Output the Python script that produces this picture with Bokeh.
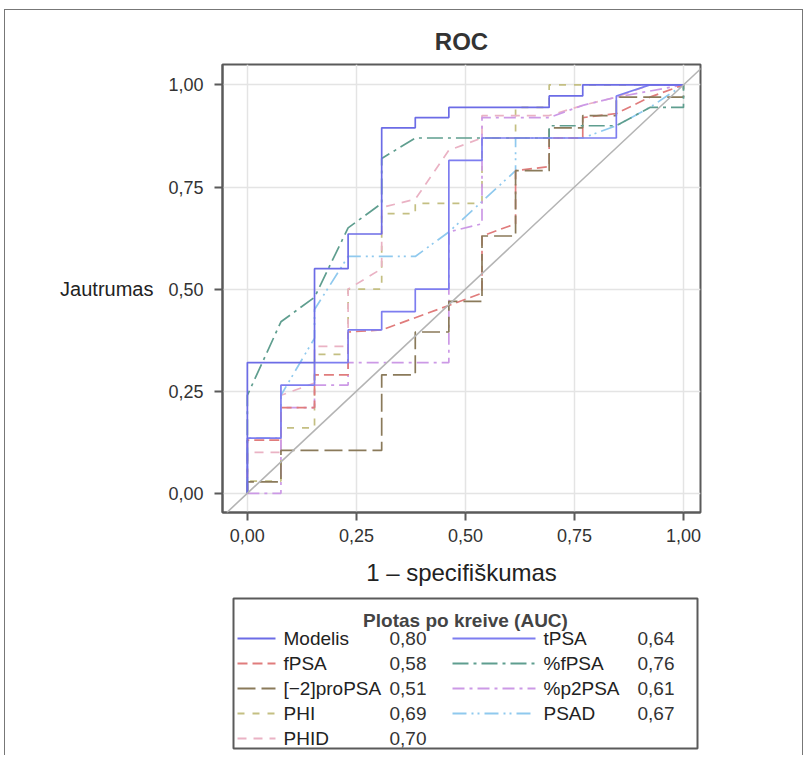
from bokeh.plotting import figure
from bokeh.models import Range1d, Slope
from bokeh.layouts import column
from bokeh.embed import file_html
from bokeh.resources import INLINE
from bokeh.core.properties import value

FONT = "Liberation Sans"

# ---------------- data ----------------
tick_values = [0.0, 0.25, 0.5, 0.75, 1.0]
tick_labels = ["0,00", "0,25", "0,50", "0,75", "1,00"]

names = ["Modelis", "fPSA", "[\u22122]proPSA", "PHI", "PHID", "tPSA", "%fPSA", "%p2PSA", "PSAD"]
auc = ["0,80", "0,58", "0,51", "0,69", "0,70", "0,64", "0,76", "0,61", "0,67"]

modelis_fpr = [0, 0, 0.154, 0.154, 0.231, 0.231, 0.308, 0.308, 0.385, 0.385, 0.462, 0.462, 0.692, 0.692, 0.769, 0.769, 1.0]
modelis_tpr = [0, 0.32, 0.32, 0.55, 0.55, 0.635, 0.635, 0.895, 0.895, 0.92, 0.92, 0.945, 0.945, 0.973, 0.973, 1.0, 1.0]

fpsa_fpr = [0, 0, 0.077, 0.077, 0.154, 0.154, 0.231, 0.231, 0.308, 0.462, 0.538, 0.538, 0.615, 0.615, 0.692, 0.692, 0.769, 0.769, 0.846, 0.923, 1.0]
fpsa_tpr = [0, 0.13, 0.13, 0.21, 0.21, 0.29, 0.29, 0.395, 0.40, 0.46, 0.49, 0.63, 0.66, 0.79, 0.80, 0.87, 0.87, 0.92, 0.93, 0.97, 1.0]

pro_fpr = [0, 0, 0.077, 0.077, 0.308, 0.308, 0.385, 0.385, 0.462, 0.462, 0.538, 0.538, 0.615, 0.615, 0.692, 0.692, 0.769, 0.769, 0.846, 0.846, 0.923, 0.923, 1.0, 1.0]
pro_tpr = [0, 0.028, 0.028, 0.105, 0.105, 0.29, 0.29, 0.395, 0.395, 0.47, 0.47, 0.63, 0.63, 0.79, 0.79, 0.895, 0.895, 0.925, 0.925, 0.97, 0.97, 0.97, 0.97, 1.0]

phi_fpr = [0, 0, 0.077, 0.077, 0.154, 0.154, 0.231, 0.231, 0.308, 0.308, 0.385, 0.385, 0.538, 0.538, 0.615, 0.615, 0.692, 0.692, 1.0]
phi_tpr = [0, 0.03, 0.03, 0.16, 0.16, 0.34, 0.34, 0.50, 0.50, 0.685, 0.685, 0.71, 0.71, 0.87, 0.87, 0.945, 0.945, 1.0, 1.0]

phid_fpr = [0, 0, 0.077, 0.077, 0.154, 0.154, 0.231, 0.231, 0.308, 0.308, 0.385, 0.462, 0.538, 0.538, 0.692, 0.769, 0.846, 0.923, 1.0]
phid_tpr = [0, 0.10, 0.10, 0.24, 0.27, 0.36, 0.36, 0.50, 0.55, 0.70, 0.72, 0.84, 0.87, 0.925, 0.925, 0.95, 0.97, 1.0, 1.0]

tpsa_fpr = [0, 0, 0.077, 0.077, 0.154, 0.154, 0.231, 0.231, 0.308, 0.308, 0.385, 0.385, 0.462, 0.462, 0.538, 0.538, 0.846, 0.846, 0.923, 1.0]
tpsa_tpr = [0, 0.135, 0.135, 0.265, 0.265, 0.32, 0.32, 0.40, 0.40, 0.445, 0.445, 0.50, 0.50, 0.815, 0.815, 0.87, 0.87, 0.973, 1.0, 1.0]

ffpsa_fpr = [0, 0, 0.077, 0.154, 0.231, 0.308, 0.308, 0.385, 0.692, 0.692, 0.846, 0.923, 1.0, 1.0]
ffpsa_tpr = [0, 0.24, 0.42, 0.48, 0.65, 0.71, 0.82, 0.87, 0.87, 0.90, 0.90, 0.945, 0.945, 1.0]

p2psa_fpr = [0, 0.077, 0.077, 0.154, 0.154, 0.231, 0.231, 0.462, 0.462, 0.538, 0.538, 0.692, 0.769, 0.846, 1.0]
p2psa_tpr = [0, 0, 0.21, 0.21, 0.265, 0.265, 0.32, 0.32, 0.64, 0.66, 0.92, 0.92, 0.95, 0.97, 1.0]

psad_fpr = [0, 0, 0.077, 0.077, 0.154, 0.154, 0.231, 0.385, 0.462, 0.615, 0.615, 0.769, 0.846, 0.923, 1.0]
psad_tpr = [0, 0.135, 0.135, 0.24, 0.38, 0.45, 0.58, 0.58, 0.64, 0.79, 0.87, 0.87, 0.90, 0.945, 1.0]

curves = {
    "Modelis": (modelis_fpr, modelis_tpr),
    "fPSA": (fpsa_fpr, fpsa_tpr),
    "[\u22122]proPSA": (pro_fpr, pro_tpr),
    "PHI": (phi_fpr, phi_tpr),
    "PHID": (phid_fpr, phid_tpr),
    "tPSA": (tpsa_fpr, tpsa_tpr),
    "%fPSA": (ffpsa_fpr, ffpsa_tpr),
    "%p2PSA": (p2psa_fpr, p2psa_tpr),
    "PSAD": (psad_fpr, psad_tpr),
}

# ---------------- styles ----------------
colors = {
    "Modelis": "#6c6ce6",
    "fPSA": "#e07c7c",
    "[\u22122]proPSA": "#8a7a5a",
    "PHI": "#c4bf82",
    "PHID": "#eab2c4",
    "tPSA": "#7d7df0",
    "%fPSA": "#5f9e8f",
    "%p2PSA": "#cc99e6",
    "PSAD": "#8fc9ee",
}
dashes = {
    "Modelis": "solid",
    "fPSA": "10 5",
    "[\u22122]proPSA": "18 6",
    "PHI": "7 8",
    "PHID": "9 7",
    "tPSA": "solid",
    "%fPSA": "16 5 3 5",
    "%p2PSA": "12 5 3 5",
    "PSAD": "14 5 2 4 2 5",
}
draw_order = ["PHI", "PHID", "PSAD", "%p2PSA", "fPSA", "[\u22122]proPSA", "%fPSA", "tPSA", "Modelis"]

W = 797
H_MAIN = 580
H_LEG = 165
FL, FT, FW, FH = 217, 54, 478, 448   # frame placement inside main figure

# ---------------- main figure ----------------
p = figure(frame_width=FW, frame_height=FH,
           x_range=Range1d(-0.057, 1.039), y_range=Range1d(-0.047, 1.05),
           output_backend="svg", toolbar_location=None,
           min_border_left=FL, min_border_right=W - FL - FW,
           min_border_top=FT, min_border_bottom=H_MAIN - FT - FH)
p.background_fill_color = "white"
p.border_fill_color = "white"
p.outline_line_color = "#5a5a5a"
p.outline_line_width = 2

p.title.text = "ROC"
p.title.align = "center"
p.title.text_font = FONT
p.title.text_font_size = "24px"
p.title.text_font_style = "bold"
p.title.text_color = "#333333"
p.title.standoff = 20

for ax in (p.xaxis, p.yaxis):
    ax.ticker = tick_values
    ax.major_label_overrides = dict(zip(tick_values, tick_labels))
    ax.major_label_text_font = FONT
    ax.major_label_text_font_size = "18px"
    ax.major_label_text_color = "#333333"
    ax.axis_line_color = "#5a5a5a"
    ax.axis_line_width = 2
    ax.major_tick_line_color = "#5a5a5a"
    ax.major_tick_line_width = 2
    ax.major_tick_out = 8
    ax.major_tick_in = 0
    ax.minor_tick_line_color = None
    ax.axis_label_text_font = FONT
    ax.axis_label_text_font_style = "normal"
    ax.axis_label_text_color = "#222222"

p.xaxis.axis_label = "1 \u2013 specifi\u0161kumas"
p.xaxis.axis_label_text_font_size = "24px"
p.xaxis.major_label_standoff = 8
p.xaxis.axis_label_standoff = 14

p.yaxis.axis_label = "Jautrumas"
p.yaxis.axis_label_orientation = "horizontal"
p.yaxis.axis_label_text_font_size = "20px"
p.yaxis.major_label_standoff = 11
p.yaxis.axis_label_standoff = 12

p.xgrid.ticker = tick_values
p.ygrid.ticker = tick_values
p.grid.grid_line_color = "#e4e4e4"
p.grid.grid_line_width = 1.5

p.add_layout(Slope(gradient=1, y_intercept=0, line_color="#b4b4b4", line_width=1.6))

for nm in draw_order:
    fx, fy = curves[nm]
    p.line(fx, fy, line_color=colors[nm], line_width=1.7, line_dash=dashes[nm])

# ---------------- legend figure (frame aligned with the main frame) ----------------
BOX_OFF, BOX_W, BOX_H = 11, 464, 150   # box offset from frame left, size in px
lg = figure(frame_width=FW, frame_height=BOX_H + 10,
            x_range=Range1d(-BOX_OFF, FW - BOX_OFF), y_range=Range1d(BOX_H + 5, -5),
            x_axis_type=None, y_axis_type=None,
            output_backend="svg", toolbar_location=None,
            min_border_left=FL, min_border_right=W - FL - FW,
            min_border_top=3, min_border_bottom=H_LEG - 3 - (BOX_H + 10))
lg.grid.visible = False
lg.outline_line_color = None
lg.background_fill_color = "white"
lg.border_fill_color = "white"

lg.quad(left=[0], right=[BOX_W], top=[0], bottom=[BOX_H], fill_color=None,
        line_color="#5a5a5a", line_width=2)

lg.text(x=[BOX_W / 2], y=[22], text=["Plotas po kreive (AUC)"],
        text_font=value(FONT), text_font_size="19px", text_font_style="bold",
        text_color="#444444", text_align="center", text_baseline="middle")

row_y = [40, 65, 90, 115, 140]
col_line = [(4, 42), (219, 302)]
col_name = [50, 310]
col_val = [156, 404]
for i, nm in enumerate(names):
    c = 0 if i < 5 else 1
    r = i if i < 5 else i - 5
    yy = row_y[r]
    x0, x1 = col_line[c]
    lg.line([x0, x1], [yy, yy], line_color=colors[nm], line_width=1.8, line_dash=dashes[nm])
    lg.text(x=[col_name[c]], y=[yy], text=[nm], text_font=value(FONT), text_font_size="19px",
            text_color="#222222", text_align="left", text_baseline="middle")
    lg.text(x=[col_val[c]], y=[yy], text=[auc[i]], text_font=value(FONT), text_font_size="19px",
            text_color="#333333", text_align="left", text_baseline="middle")

layout = column(p, lg, styles={"margin-left": "4px", "margin-top": "9px",
                               "border-left": "1px solid #777", "border-top": "1px solid #777",
                               "border-right": "1px solid #777"})

open("out.html", "w").write(file_html(layout, INLINE))
